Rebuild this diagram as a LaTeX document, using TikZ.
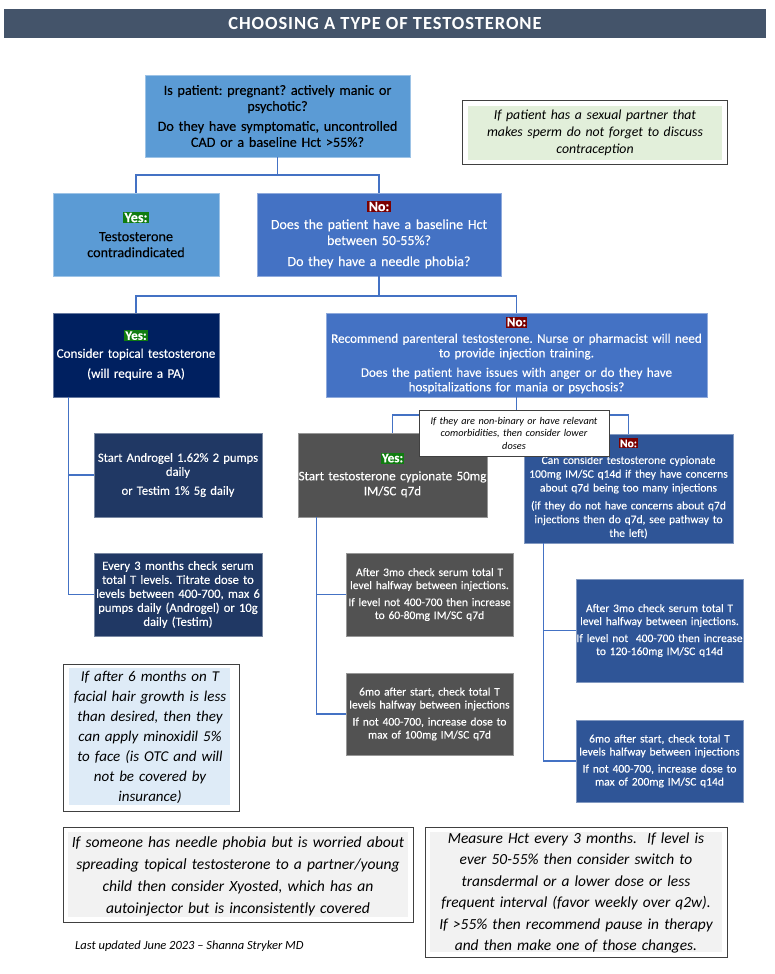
\documentclass[tikz,border=0pt]{standalone}
\usepackage{fontspec}
\setmainfont{Carlito}
\newfontfamily\medfont{Carlito}[FakeBold=0.12]
\usetikzlibrary{positioning,calc}
\frenchspacing
\definecolor{hdr}{HTML}{44546A}
\definecolor{lblue}{HTML}{5B9BD5}
\definecolor{mblue}{HTML}{4472C4}
\definecolor{navy}{HTML}{002060}
\definecolor{dnavy}{HTML}{203864}
\definecolor{dblue}{HTML}{2F5597}
\definecolor{dgray}{HTML}{525252}
\definecolor{yesg}{HTML}{107C10}
\definecolor{nored}{HTML}{7B0000}
\definecolor{notegreen}{HTML}{E2EFDA}
\definecolor{noteblue}{HTML}{DEEBF7}
\definecolor{notegray}{HTML}{F2F2F2}
\definecolor{conncol}{HTML}{4472C4}
\newcommand\yeslab{{\setlength{\fboxsep}{1.2pt}\colorbox{yesg}{\textcolor{white}{\bfseries Yes:}}}}
\newcommand\nolab{{\setlength{\fboxsep}{1.2pt}\colorbox{nored}{\textcolor{white}{\bfseries No:}}}}
\tikzset{
  box/.style={draw=#1!60!white, line width=0.5pt, fill=#1, inner sep=0pt, align=center, text=white},
  conn/.style={draw=conncol, line width=1.2pt},
  note/.style={draw=black!75, line width=0.7pt, fill=white, inner sep=0pt},
  notetext/.style={inner sep=0pt, align=center, text=black, font=\itshape},
}
\begin{document}
\begin{tikzpicture}[x=1pt,y=-1pt]
\useasboundingbox (0,0) rectangle (774,974);
% header
\fill[hdr] (4,9) rectangle (766,38);
\node[text=white, font=\fontsize{18.5}{20}\selectfont\bfseries, inner sep=0pt] (title) at (385,23.5) {\addfontfeatures{LetterSpace=5}CHOOSING A TYPE OF TESTOSTERONE};
% top question
\node[box=lblue, text=black, minimum width=265pt, minimum height=82pt, text width=263pt, font=\fontsize{14.2}{16}\selectfont\medfont] (top) at (277.5,116)
 {Is patient: pregnant? actively manic or\\ psychotic?\\[4pt] Do they have symptomatic, uncontrolled\\ CAD or a baseline Hct >55\%?};
% note 1
\node[note, minimum width=265pt, minimum height=64pt] (n1) at (594.5,132) {};
\fill[notegreen] (468,106) rectangle (722,160);
\node[notetext, text width=252pt, font=\fontsize{13.8}{17}\selectfont\itshape] (n1t) at (595,133) {If patient has a sexual partner that\\ makes sperm do not forget to discuss\\ contraception};
% level 1
\node[box=lblue, text=black, minimum width=166pt, minimum height=83pt, text width=164pt, font=\fontsize{14.2}{16}\selectfont\medfont] (yes1) at (136,234.5)
 {\yeslab\\[3pt] Testosterone\\ contradindicated};
\node[box=mblue, minimum width=244pt, minimum height=83pt, text width=242pt, font=\fontsize{14}{16}\selectfont\medfont] (no1) at (379,234.5)
 {\nolab\\[2pt] Does the patient have a baseline Hct\\ between 50-55\%?\\[5pt] Do they have a needle phobia?};
% level 2
\node[box=navy, minimum width=166pt, minimum height=84pt, text width=164pt, font=\fontsize{13.1}{15}\selectfont\medfont] (yes2) at (136,355)
 {\yeslab\\[3pt] Consider topical testosterone\\[5pt] (will require a PA)};
\node[box=mblue, minimum width=381pt, minimum height=84pt, text width=379pt, font=\fontsize{13.1}{14.5}\selectfont\medfont] (no2) at (516.5,355)
 {\nolab\\[2pt] Recommend parenteral testosterone. Nurse or pharmacist will need\\ to provide injection training.\\[5pt] Does the patient have issues with anger or do they have\\ hospitalizations for mania or psychosis?};
% level 3
\node[box=dgray, minimum width=189pt, minimum height=84pt, text width=189pt, font=\fontsize{13.1}{15}\selectfont\medfont] (yes3) at (392.5,475)
 {\yeslab\\[3pt] Start testosterone cypionate 50mg\\ IM/SC q7d};
\node[box=dblue, minimum width=209pt, minimum height=109pt, text width=207pt, font=\fontsize{11.5}{13.8}\selectfont\medfont] (no3) at (628.5,488.5)
 {\nolab\\[3pt] Can consider testosterone cypionate\\ 100mg IM/SC q14d if they have concerns\\ about q7d being too many injections\\[4pt] (if they do not have concerns about q7d\\ injections then do q7d, see pathway to\\ the left)};
% left branch boxes
\node[box=dnavy, minimum width=168pt, minimum height=84pt, text width=168pt, font=\fontsize{12.6}{14}\selectfont\medfont] (and1) at (178,475)
 {Start Androgel 1.62\% 2 pumps\\ daily\\[5pt] or Testim 1\% 5g daily};
\node[box=dnavy, minimum width=168pt, minimum height=83pt, text width=168pt, font=\fontsize{12.6}{14}\selectfont\medfont] (and2) at (178,594.5)
 {Every 3 months check serum\\ total T levels. Titrate dose to\\ levels between 400-700, max 6\\ pumps daily (Androgel) or 10g\\ daily (Testim)};
% middle branch boxes
\node[box=dgray, minimum width=167pt, minimum height=83pt, text width=167pt, font=\fontsize{11.5}{13}\selectfont\medfont] (mid1) at (429.5,594.5)
 {After 3mo check serum total T\\ level halfway between injections.\\[4pt] If level not 400-700 then increase\\ to 60-80mg IM/SC q7d};
\node[box=dgray, minimum width=167pt, minimum height=82pt, text width=167pt, font=\fontsize{11.5}{13}\selectfont\medfont] (mid2) at (429.5,714)
 {6mo after start, check total T\\ levels halfway between injections\\[4pt] If not 400-700, increase dose to\\ max of 100mg IM/SC q7d};
% right branch boxes
\node[box=dblue, minimum width=167pt, minimum height=103pt, text width=167pt, font=\fontsize{11.5}{13}\selectfont\medfont] (r1) at (659.5,630.5)
 {After 3mo check serum total T\\ level halfway between injections.\\[4pt] If level not\ \ 400-700 then increase\\ to 120-160mg IM/SC q14d};
\node[box=dblue, minimum width=167pt, minimum height=82pt, text width=167pt, font=\fontsize{11.5}{13}\selectfont\medfont] (r2) at (659.5,761)
 {6mo after start, check total T\\ levels halfway between injections\\[4pt] If not 400-700, increase dose to\\ max of 200mg IM/SC q14d};
% connectors
\coordinate (j1) at (277.5,175);
\draw[conn] (top.south) -- (j1);
\draw[conn] (yes1.north) |- (j1) -| (no1.north);
\coordinate (j2) at (379,296);
\draw[conn] (no1.south) -- (j2);
\draw[conn] (yes2.north) |- (j2) -| (no2.north);
\coordinate (j3) at (516.5,415);
\draw[conn] (no2.south) -- (j3);
\draw[conn] (yes3.north) |- (j3) -| (no3.north);
\draw[conn] ($(yes2.south west)+(16,0)$) |- (and1.west);
\draw[conn] ($(yes2.south west)+(16,0)$) |- (and2.west);
\draw[conn] ($(yes3.south west)+(19,0)$) |- (mid1.west);
\draw[conn] ($(yes3.south west)+(19,0)$) |- (mid2.west);
\draw[conn] ($(no3.south west)+(20,0)$) |- (r1.west);
\draw[conn] ($(no3.south west)+(20,0)$) |- (r2.west);
% note 2 (over connector)
\node[note, minimum width=190pt, minimum height=46pt, text width=188pt, align=center, font=\fontsize{10.3}{12.5}\selectfont\itshape] (n2) at (514,433)
 {If they are non-binary or have relevant\\ comorbidities, then consider lower\\ doses};
% minoxidil note
\node[note, minimum width=176pt, minimum height=147pt] (n3) at (151,737.5) {};
\fill[noteblue] (69,668) rectangle (230,805);
\node[notetext, text width=168pt, font=\fontsize{15}{20}\selectfont\itshape] (n3t) at (150,737) {If after 6 months on T\\ facial hair growth is less\\ than desired, then they\\ can apply minoxidil 5\%\\ to face (is OTC and will\\ not be covered by\\ insurance)};
% bottom notes
\node[note, minimum width=350pt, minimum height=95pt] (n4) at (238,874.5) {};
\fill[notegray] (68,832) rectangle (408,917);
\node[notetext, text width=348pt, font=\fontsize{15.6}{22}\selectfont\itshape] (n4t) at (238,876) {If someone has needle phobia but is worried about\\ spreading topical testosterone to a partner/young\\ child then consider Xyosted, which has an\\ autoinjector but is inconsistently covered};
\node[note, minimum width=302pt, minimum height=130pt] (n5) at (576,892) {};
\fill[notegray] (430,832) rectangle (722,952);
\node[notetext, text width=300pt, font=\fontsize{15.4}{21.5}\selectfont\itshape] (n5t) at (576,893) {Measure Hct every 3 months.\ \ If level is\\ ever 50-55\% then consider switch to\\ transdermal or a lower dose or less\\ frequent interval (favor weekly over q2w).\\ If >55\% then recommend pause in therapy\\ and then make one of those changes.};
\node[anchor=west, inner sep=0pt, font=\fontsize{12.5}{14}\selectfont\itshape] (foot) at (75,946) {Last updated June 2023 -- Shanna Stryker MD};
\end{tikzpicture}
\end{document}
